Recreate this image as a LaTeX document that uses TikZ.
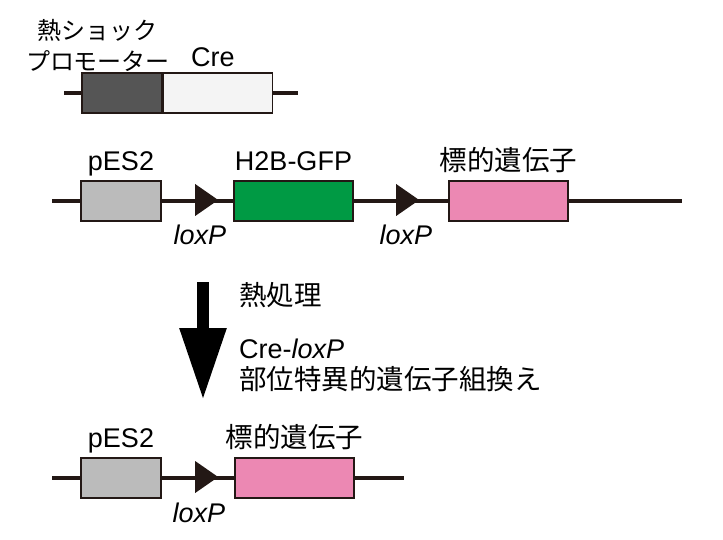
\documentclass[tikz,border=0pt]{standalone}
\usepackage{fontspec}
\setmainfont{Liberation Sans}
\newfontfamily\jpfont{Noto Sans CJK JP}
\usetikzlibrary{arrows.meta,positioning,shapes.geometric}
\definecolor{dnaline}{HTML}{231815}
\definecolor{hsdark}{HTML}{555555}
\definecolor{crelight}{HTML}{F4F4F4}
\definecolor{pesgray}{HTML}{BBBBBB}
\definecolor{gfpgreen}{HTML}{009A44}
\definecolor{tgtpink}{HTML}{EC88B3}
\tikzset{
	gene/.style={draw=dnaline, line width=1.6pt, minimum width=119pt, minimum height=40pt, inner sep=0pt},
	promoter/.style={gene, minimum width=80pt, fill=pesgray},
	lox/.style={isosceles triangle, isosceles triangle stretches, fill=dnaline, inner sep=0pt, minimum width=32pt, minimum height=23pt},
	dna/.style={draw=dnaline, line width=4pt},
	lbl/.style={font=\fontsize{27}{31}\selectfont, inner sep=0pt},
	loxlbl/.style={font=\fontsize{27}{31}\selectfont\itshape, inner sep=0pt},
	jlbl/.style={font=\jpfont\fontsize{27.5}{32}\selectfont, inner sep=0pt, align=left},
	step arrow/.style={line width=12pt, -{Triangle[width=44pt, length=72pt]}}
}
\begin{document}
\begin{tikzpicture}[x=1pt, y=-1pt]
	\useasboundingbox (0,0) rectangle (723,540);
	% heat shock promoter - Cre
	\node[gene, minimum width=80pt, fill=hsdark] (hs) at (122,93) {};
	\node[gene, minimum width=109pt, fill=crelight, right=0pt of hs] (cre) {};
	\coordinate (t0) at (64,93);
	\coordinate (t1) at (298,93);
	\draw[dna] (t0) -- (hs.west);
	\draw[dna] (cre.east) -- (t1);
	\node[jlbl, align=center, font=\jpfont\fontsize{24}{31}\selectfont] (hslbl) at (98,45) {熱ショック\\プロモーター};
	\node[lbl, anchor=base west] (crelbl) at (191,67) {Cre};
	% before recombination
	\node[promoter] (pes) at (121,201) {};
	\node[gene, fill=gfpgreen] (h2b) at (293.5,201) {};
	\node[gene, fill=tgtpink] (tgt) at (508.5,201) {};
	\coordinate (a0) at (52,201);
	\coordinate (a1) at (682,201);
	\draw[dna] (a0) -- (pes.west);
	\draw[dna] (pes.east) -- (h2b.west);
	\draw[dna] (h2b.east) -- (tgt.west);
	\draw[dna] (tgt.east) -- (a1);
	\node[lox] (loxa) at (203.5,200) {};
	\node[lox] (loxb) at (404.5,200) {};
	\node[lbl, above=10pt of pes, anchor=base] {pES2};
	\node[lbl, above=10pt of h2b, anchor=base] {H2B-GFP};
	\node[jlbl, above=7pt of tgt] {標的遺伝子};
	\node[loxlbl, anchor=base] at (200,245) {loxP};
	\node[loxlbl, anchor=base] at (406,245) {loxP};
	% heat treatment
	\coordinate (s0) at (203,282);
	\coordinate (s1) at (203,400);
	\draw[step arrow, black] (s0) -- (s1);
	\node[jlbl, anchor=west] (heat) at (239,295) {熱処理};
	\node[lbl, anchor=base west] (crelox) at (239,358) {Cre-\textit{loxP}};
	\node[jlbl, anchor=west] (recomb) at (239,379) {部位特異的遺伝子組換え};
	% after recombination
	\node[promoter] (pes2) at (121,478) {};
	\node[gene, fill=tgtpink] (tgt2) at (294.5,478) {};
	\coordinate (b0) at (52,478);
	\coordinate (b1) at (404,478);
	\draw[dna] (b0) -- (pes2.west);
	\draw[dna] (pes2.east) -- (tgt2.west);
	\draw[dna] (tgt2.east) -- (b1);
	\node[lox] (loxc) at (203.5,477) {};
	\node[lbl, above=10pt of pes2, anchor=base] {pES2};
	\node[jlbl, above=7pt of tgt2] {標的遺伝子};
	\node[loxlbl, anchor=base] at (199,522) {loxP};
\end{tikzpicture}
\end{document}
